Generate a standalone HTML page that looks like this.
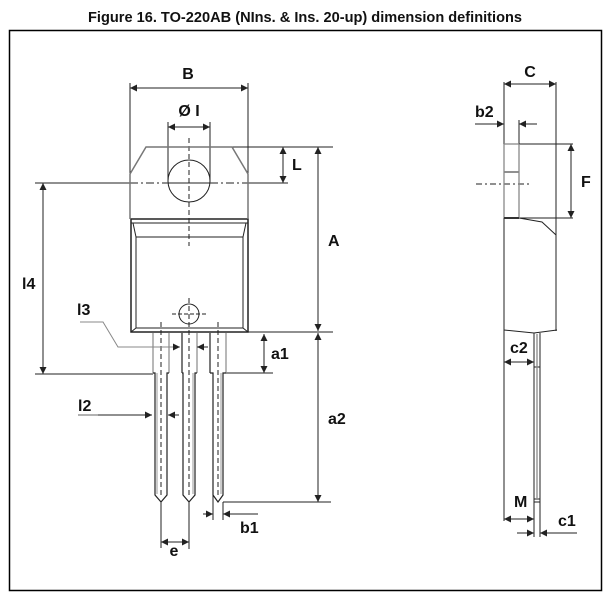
<!DOCTYPE html>
<html><head><meta charset="utf-8"><style>
html,body{margin:0;padding:0;background:#fff;}
svg{display:block;}
text{font-family:"Liberation Sans",Arial,sans-serif;font-weight:bold;fill:#111;}
</style></head><body>
<svg width="611" height="606" viewBox="0 0 611 606" xmlns="http://www.w3.org/2000/svg">
<defs>
<marker id="ar" viewBox="0 0 10 10" refX="10" refY="5" markerWidth="8" markerHeight="7" markerUnits="userSpaceOnUse" orient="auto-start-reverse">
<path d="M0,0 L10,5 L0,10 z" fill="#222"/>
</marker>
</defs>
<rect width="611" height="606" fill="#fff"/>
<text x="88" y="22" font-size="14.5" textLength="434" lengthAdjust="spacingAndGlyphs">Figure 16. TO-220AB (NIns. &amp; Ins. 20-up) dimension definitions</text>
<rect x="9.5" y="30.5" width="592" height="560" fill="none" stroke="#000" stroke-width="1.5"/>

<g fill="none" stroke="#222" stroke-width="1">
<line x1="130" y1="83" x2="130" y2="174"/>
<line x1="248" y1="83" x2="248" y2="174"/>
<line x1="168" y1="122" x2="168" y2="182"/>
<line x1="210" y1="122" x2="210" y2="182"/>
<line x1="232" y1="147" x2="333" y2="147"/>
<line x1="35" y1="183" x2="130" y2="183"/>
<line x1="168" y1="183" x2="210" y2="183"/>
<line x1="248" y1="183" x2="288" y2="183"/>
<line x1="130" y1="183" x2="168" y2="183" stroke-dasharray="8,3,2,3"/>
<line x1="210" y1="183" x2="248" y2="183" stroke-dasharray="8,3,2,3"/>
<circle cx="189" cy="181" r="21"/>
<rect x="131" y="219" width="117" height="113" stroke-width="1.5"/>
<line x1="131" y1="223" x2="248" y2="223"/>
<line x1="133" y1="223" x2="136" y2="237"/>
<line x1="246" y1="223" x2="243" y2="237"/>
<rect x="136" y="237" width="107" height="91"/>
<line x1="131" y1="332" x2="136" y2="328"/>
<line x1="248" y1="332" x2="243" y2="328"/>
<circle cx="189" cy="314" r="10"/>
<line x1="172" y1="314" x2="207" y2="314" stroke-dasharray="4,2"/>
<line x1="248" y1="332" x2="333" y2="332"/>
<line x1="226" y1="373" x2="273" y2="373"/>
<line x1="35" y1="374" x2="153" y2="374"/>
<line x1="223" y1="502" x2="331" y2="502"/>
<line x1="189" y1="138" x2="189" y2="246" stroke-dasharray="5,3"/>
<line x1="189" y1="298" x2="189" y2="496" stroke-dasharray="5,3"/>
<line x1="161" y1="322" x2="161" y2="496" stroke-dasharray="5,3"/>
<line x1="218" y1="322" x2="218" y2="496" stroke-dasharray="5,3"/>
</g>
<g fill="none" stroke="#777" stroke-width="1.5">
<polyline points="130,174 146,147 232,147 248,174"/>
<line x1="130" y1="174" x2="130" y2="219"/>
<line x1="248" y1="174" x2="248" y2="219"/>
</g>
<g fill="none" stroke-width="1.2">
<line x1="153" y1="333" x2="153" y2="373" stroke="#888"/>
<line x1="169" y1="333" x2="169" y2="373" stroke="#888"/>
<polyline points="153,373 155,373 155,495 161,502 167,495 167,373 169,373" stroke="#222"/>
<line x1="157" y1="373" x2="157" y2="494" stroke="#aaa"/>
<line x1="182" y1="333" x2="182" y2="373" stroke="#222"/>
<line x1="197" y1="333" x2="197" y2="373" stroke="#888"/>
<polyline points="182,373 183,373 183,495 189,502 195,495 195,373 197,373" stroke="#222"/>
<line x1="193" y1="373" x2="193" y2="494" stroke="#aaa"/>
<line x1="210" y1="333" x2="210" y2="373" stroke="#222"/>
<line x1="226" y1="333" x2="226" y2="373" stroke="#888"/>
<polyline points="210,373 213,373 213,495 218,502 223,495 223,373 226,373" stroke="#222"/>
<line x1="221" y1="373" x2="221" y2="494" stroke="#aaa"/>
</g>
<g fill="none" stroke="#222" stroke-width="1">
<line x1="161" y1="502" x2="161" y2="548"/>
<line x1="189" y1="502" x2="189" y2="549"/>
<line x1="213" y1="495" x2="213" y2="520"/>
<line x1="223" y1="502" x2="223" y2="520"/>
<polyline points="80,322 103,322 118,347 178,347" stroke="#888"/>
<line x1="78" y1="415" x2="98" y2="415" stroke="#999" stroke-width="1.5"/>
</g>
<g fill="none" stroke="#222" stroke-width="1">
<line x1="130" y1="88" x2="248" y2="88" marker-start="url(#ar)" marker-end="url(#ar)"/>
<line x1="168" y1="127" x2="210" y2="127" marker-start="url(#ar)" marker-end="url(#ar)"/>
<line x1="283" y1="147" x2="283" y2="183" marker-start="url(#ar)" marker-end="url(#ar)"/>
<line x1="318" y1="147" x2="318" y2="331" marker-start="url(#ar)" marker-end="url(#ar)"/>
<line x1="264" y1="334" x2="264" y2="373" marker-start="url(#ar)" marker-end="url(#ar)"/>
<line x1="318" y1="333" x2="318" y2="502" marker-start="url(#ar)" marker-end="url(#ar)"/>
<line x1="43" y1="183" x2="43" y2="374" marker-start="url(#ar)" marker-end="url(#ar)"/>
<line x1="150" y1="347" x2="180" y2="347" stroke="#888" marker-end="url(#ar)"/>
<line x1="208" y1="347" x2="197" y2="347" marker-end="url(#ar)"/>
<line x1="98" y1="415" x2="152" y2="415" marker-end="url(#ar)"/>
<line x1="179" y1="415" x2="168" y2="415" marker-end="url(#ar)"/>
<line x1="161" y1="542" x2="189" y2="542" marker-start="url(#ar)" marker-end="url(#ar)"/>
<line x1="203" y1="514" x2="213" y2="514" marker-end="url(#ar)"/>
<line x1="258" y1="514" x2="223" y2="514" marker-end="url(#ar)"/>
<line x1="504" y1="84" x2="556" y2="84" marker-start="url(#ar)" marker-end="url(#ar)"/>
<line x1="475" y1="124" x2="504" y2="124" marker-end="url(#ar)"/>
<line x1="537" y1="124" x2="519" y2="124" marker-end="url(#ar)"/>
<line x1="571" y1="144" x2="571" y2="218" marker-start="url(#ar)" marker-end="url(#ar)"/>
<line x1="504" y1="362" x2="534" y2="362" marker-start="url(#ar)" marker-end="url(#ar)"/>
<line x1="504" y1="519" x2="534" y2="519" marker-start="url(#ar)" marker-end="url(#ar)"/>
<line x1="517" y1="533" x2="534" y2="533" marker-end="url(#ar)"/>
<line x1="577" y1="533" x2="540" y2="533" marker-end="url(#ar)"/>
</g>
<g fill="none" stroke="#222" stroke-width="1">
<line x1="504" y1="82" x2="504" y2="144"/>
<line x1="504" y1="218" x2="504" y2="521"/>
<line x1="556" y1="82" x2="556" y2="331"/>
<line x1="519" y1="120" x2="519" y2="144"/>
<line x1="519" y1="144" x2="573" y2="144"/>
<line x1="519" y1="218" x2="573" y2="218"/>
<polyline points="519,218 542,222 556,235"/>
<polyline points="504,330 534,333 557,330"/>
<line x1="534" y1="333" x2="534" y2="537"/>
<line x1="540" y1="333" x2="540" y2="537"/>
<line x1="534" y1="367" x2="540" y2="367"/>
<line x1="534" y1="499" x2="540" y2="499"/>
<line x1="534" y1="502" x2="540" y2="502"/>
<line x1="504" y1="172" x2="519" y2="172"/>
<line x1="476" y1="184" x2="531" y2="184" stroke-dasharray="6,3,2,3"/>
</g>
<g fill="none" stroke="#888" stroke-width="1.3">
<line x1="504" y1="144" x2="504" y2="218"/>
<line x1="519" y1="144" x2="519" y2="218"/>
<line x1="504" y1="144" x2="519" y2="144"/>
<line x1="537" y1="334" x2="537" y2="498"/>
</g>
<line x1="504" y1="218" x2="519" y2="218" stroke="#333" stroke-width="2"/>

<g font-size="16">
<text x="188" y="79" text-anchor="middle">B</text>
<text x="189" y="116" text-anchor="middle">Ø I</text>
<text x="292" y="170">L</text>
<text x="328" y="246">A</text>
<text x="22" y="289">l4</text>
<text x="77" y="315">l3</text>
<text x="271" y="359">a1</text>
<text x="78" y="411">l2</text>
<text x="328" y="424">a2</text>
<text x="240" y="533">b1</text>
<text x="174" y="556" text-anchor="middle">e</text>
<text x="530" y="77" text-anchor="middle">C</text>
<text x="475" y="117">b2</text>
<text x="581" y="187">F</text>
<text x="510" y="353">c2</text>
<text x="514" y="507">M</text>
<text x="558" y="526">c1</text>
</g>
</svg>
</body></html>
